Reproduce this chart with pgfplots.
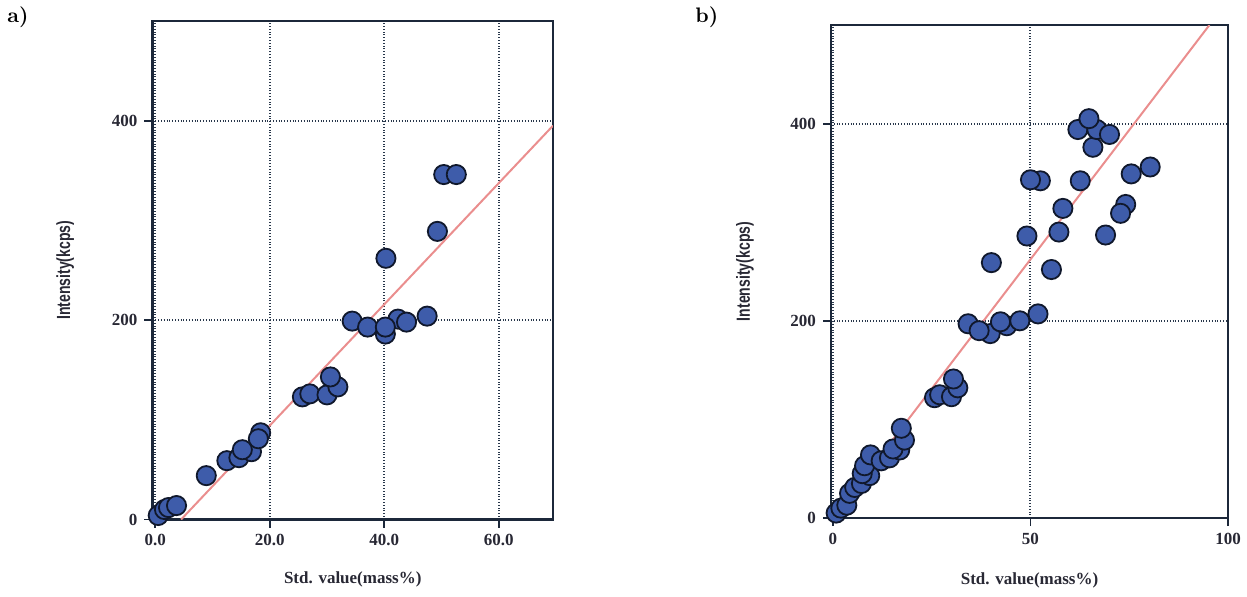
\documentclass[border=0pt]{standalone}
\usepackage{fontspec}
\newfontfamily\timesf{Liberation Serif}
\newfontfamily\ylabf[FakeStretch=0.74]{Liberation Sans}
\usepackage{pgfplots}
\pgfplotsset{compat=1.18}
\definecolor{framec}{RGB}{28,40,58}
\definecolor{gridc}{RGB}{40,55,75}
\definecolor{fitc}{RGB}{234,142,142}
\definecolor{dotfill}{RGB}{62,92,170}
\definecolor{dotedge}{RGB}{16,24,44}
\definecolor{labc}{RGB}{40,40,52}
\pgfplotsset{myax/.style={
  scale only axis,
  axis line style={framec, line width=1.1pt},
  grid=major,
  major grid style={gridc, densely dotted, line width=1pt},
  tick align=outside, major tick length=4pt,
  tick style={framec, line width=0.9pt},
  xtick pos=left, ytick pos=left,
  ticklabel style={font=\timesf\bfseries\fontsize{8.5}{10}\selectfont, text=labc},
  /pgf/number format/assume math mode=true,
  xlabel style={font=\timesf\bfseries\fontsize{8.5}{10}\selectfont, text=labc, anchor=center},
  ylabel style={font=\ylabf\bfseries\fontsize{9.5}{11}\selectfont, text=labc, anchor=center, rotate=0},
  ymin=0, ymax=500, ytick={0,200,400},
  xlabel={Std. value(mass\%)}, ylabel={Intensity(kcps)},
  clip=true,
}, dots/.style={only marks, mark=*, mark size=4.8pt, mark options={fill=dotfill, draw=dotedge, line width=0.9pt}},
fit/.style={no marks, fitc, line width=1pt}}
\begin{document}
\begin{tikzpicture}
\path[use as bounding box] (0,0) rectangle (623.5pt,298pt);
\node[anchor=north west, inner sep=0pt, font=\bfseries\fontsize{10.5}{12}\selectfont] at (3.5pt,295pt) {a)};
\node[anchor=north west, inner sep=0pt, font=\bfseries\fontsize{10.5}{12}\selectfont] at (347.5pt,295pt) {b)};
\begin{axis}[myax, at={(76.25pt,38.25pt)}, anchor=south west,
  width=200.25pt, height=249.25pt,
  xmin=-0.5, xmax=69.5, xtick={0,20,40,60}, xticklabels={0.0,20.0,40.0,60.0},
  xlabel style={at={(axis description cs:0.5,-0.121)}},
  ylabel style={at={(axis description cs:-0.218,0.5)}}]
\addplot[fit] coordinates {(4.5,0) (69.5,395)};
\addplot[dots] coordinates {
(0.5,4) (1.6,10) (2.3,12) (3.7,14) (8.9,44) (12.5,59) (14.6,62) (16.8,68) (15.2,70)
(18.4,87) (18.0,81) (25.7,123) (27.0,126) (30.0,125) (31.9,133) (30.6,143)
(34.4,199) (37.1,193) (40.2,186) (42.4,201) (43.9,198) (40.2,193) (47.5,204)
(40.3,262) (49.3,289) (50.4,346) (52.6,346)};
\end{axis}
\begin{axis}[myax, at={(415.5pt,39pt)}, anchor=south west,
  width=198.5pt, height=246.5pt,
  xmin=-0.5, xmax=100, xtick={0,50,100},
  xlabel style={at={(axis description cs:0.5,-0.126)}},
  ylabel style={at={(axis description cs:-0.217,0.5)}}]
\addplot[fit] coordinates {(0,0) (95.3,500)};
\addplot[dots] coordinates {
(0.8,5) (2.0,10) (3.5,13) (4.2,25) (5.5,31) (7.2,35) (9.3,43) (7.4,45) (8.0,53) (9.5,64)
(12.2,58) (14.3,61) (16.9,69) (15.2,70) (18.1,79) (17.3,91)
(25.7,122) (27.0,125) (30.0,123) (31.6,132) (30.5,141)
(34.2,197) (39.8,187) (37.0,190) (44.0,195) (42.4,199) (47.3,200) (51.9,207)
(40.1,259) (49.1,286) (52.5,342) (50.0,343) (55.3,252) (57.2,290) (58.2,314)
(65.8,376) (62.0,394) (66.8,394) (64.8,405) (70.0,389) (62.6,342) (69.0,287)
(74.1,318) (72.8,309) (75.5,349) (80.3,356)};
\end{axis}
\end{tikzpicture}
\end{document}
